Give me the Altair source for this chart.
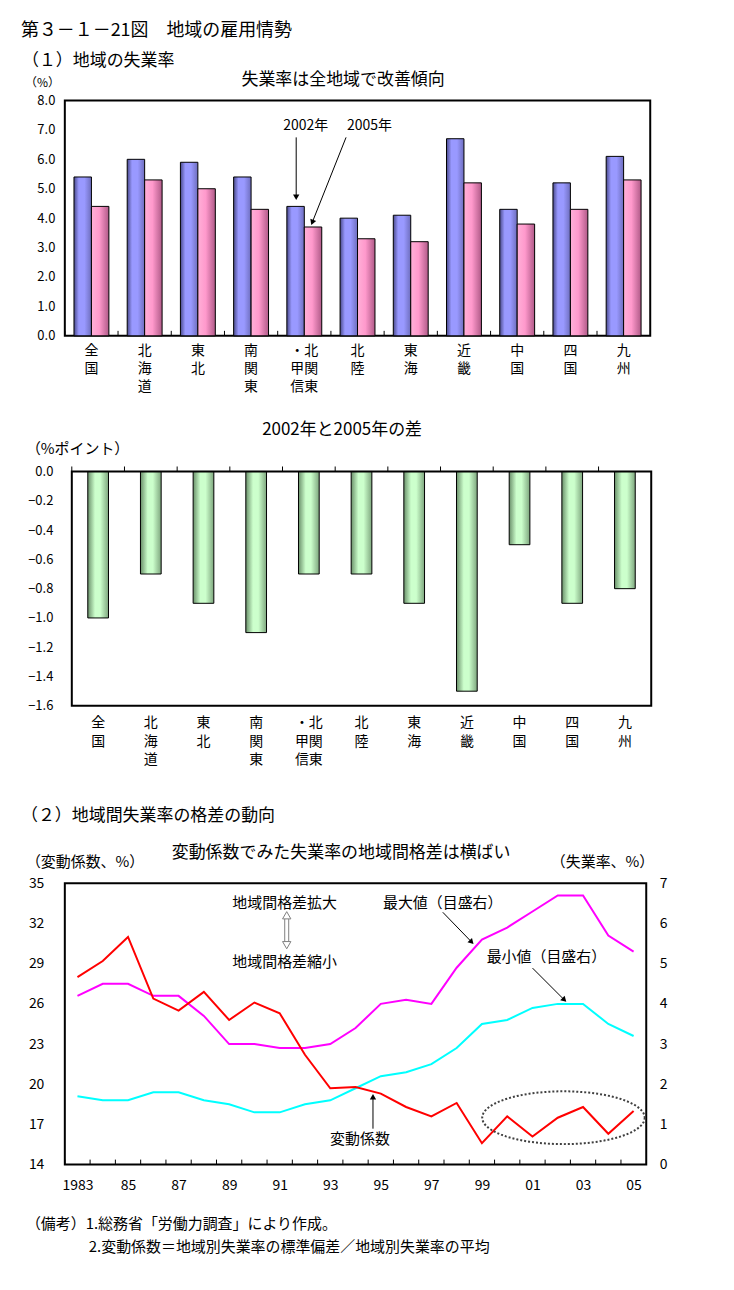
import math
import altair as alt
import pandas as pd

FONT = "Noto Sans CJK JP"

# ---------------- data ----------------
regions = ["全国", "北海道", "東北", "南関東", "北関東・甲信", "北陸", "東海", "近畿", "中国", "四国", "九州"]
region_labels = ["全|国", "北|海|道", "東|北", "南|関|東", "・北|甲関|信東", "北|陸", "東|海", "近|畿", "中|国", "四|国", "九|州"]
bar_years = ["2002年", "2005年"]
rate_2002 = [5.4, 6.0, 5.9, 5.4, 4.4, 4.0, 4.1, 6.7, 4.3, 5.2, 6.1]
rate_2005 = [4.4, 5.3, 5.0, 4.3, 3.7, 3.3, 3.2, 5.2, 3.8, 4.3, 5.3]
rate_change = [-1.0, -0.7, -0.9, -1.1, -0.7, -0.7, -0.9, -1.5, -0.5, -0.9, -0.8]

years = [1983, 1984, 1985, 1986, 1987, 1988, 1989, 1990, 1991, 1992, 1993, 1994,
         1995, 1996, 1997, 1998, 1999, 2000, 2001, 2002, 2003, 2004, 2005]
coef_var = [28.0, 29.2, 31.0, 26.4, 25.5, 26.9, 24.8, 26.1, 25.3, 22.2, 19.7, 19.8,
            19.3, 18.3, 17.6, 18.6, 15.6, 17.6, 16.1, 17.5, 18.3, 16.3, 18.0]
max_rate = [4.2, 4.5, 4.5, 4.2, 4.2, 3.7, 3.0, 3.0, 2.9, 2.9, 3.0, 3.4,
            4.0, 4.1, 4.0, 4.9, 5.6, 5.9, 6.3, 6.7, 6.7, 5.7, 5.3]
min_rate = [1.7, 1.6, 1.6, 1.8, 1.8, 1.6, 1.5, 1.3, 1.3, 1.5, 1.6, 1.9,
            2.2, 2.3, 2.5, 2.9, 3.5, 3.6, 3.9, 4.0, 4.0, 3.5, 3.2]

y1_ticks = [0, 1, 2, 3, 4, 5, 6, 7, 8]
y2_ticks = [-1.6, -1.4, -1.2, -1.0, -0.8, -0.6, -0.4, -0.2, 0.0]
y3_left_ticks = [14, 17, 20, 23, 26, 29, 32, 35]
y3_right_ticks = [0, 1, 2, 3, 4, 5, 6, 7]

# ---------------- texts ----------------
fig_title = "第３－１－21図　地域の雇用情勢"
sec1_title = "（１）地域の失業率"
chart1_title = "失業率は全地域で改善傾向"
chart1_unit = "（%）"
chart2_title = "2002年と2005年の差"
chart2_unit = "（%ポイント）"
sec2_title = "（２）地域間失業率の格差の動向"
chart3_title = "変動係数でみた失業率の地域間格差は横ばい"
chart3_unit_left = "（変動係数、%）"
chart3_unit_right = "（失業率、%）"
note_widen = "地域間格差拡大"
note_narrow = "地域間格差縮小"
note_max = "最大値（目盛右）"
note_min = "最小値（目盛右）"
note_cv = "変動係数"
foot1 = "（備考）1.総務省「労働力調査」により作成。"
foot2 = "2.変動係数＝地域別失業率の標準偏差／地域別失業率の平均"

# ---------------- tables ----------------
df1 = pd.DataFrame({
    "label": region_labels * 2,
    "year": [bar_years[0]] * len(region_labels) + [bar_years[1]] * len(region_labels),
    "rate": rate_2002 + rate_2005,
})
df2 = pd.DataFrame({"label": region_labels, "diff": rate_change})
df3 = pd.DataFrame({"year": years, "cv": coef_var, "max": max_rate, "min": min_rate})
one = pd.DataFrame({"k": [0]})

# ---------------- layout sizes ----------------
W1, H1 = 587, 236
W2, H2 = 588, 235
X2L = 7            # chart 2 frame starts 7px right of the common origin
W3, H3 = 583, 282
GAP1, GAP2 = 136, 178
OX, OY = 64, 98


def txt(s, x, y, size=15, align="left"):
    return alt.Chart(one).mark_text(
        text=s, align=align, baseline="middle", font=FONT, fontSize=size, color="black"
    ).encode(x=alt.value(x), y=alt.value(y))


def arrow(x1, y1, x2, y2, color="black"):
    dx, dy = x2 - x1, y2 - y1
    L = math.hypot(dx, dy)
    ux, uy = dx / L, dy / L
    ang = math.degrees(math.atan2(-dx, dy)) % 360
    hx, hy = x2 - ux * 3, y2 - uy * 3
    line = alt.Chart(one).mark_rule(color=color, strokeWidth=1).encode(
        x=alt.value(x1), y=alt.value(y1), x2=alt.value(hx), y2=alt.value(hy))
    tip = alt.Chart(one).mark_point(
        shape="triangle-down", filled=True, color=color, size=40, angle=ang, opacity=1
    ).encode(x=alt.value(hx), y=alt.value(hy))
    return alt.layer(line, tip)


def grad(stops):
    return alt.LinearGradient(
        gradient="linear",
        stops=[alt.GradientStop(offset=o, color=c) for o, c in stops],
        x1=0, x2=1, y1=0, y2=0)


grad_blue = grad([(0, "#4A4A8C"), (0.28, "#9999FF"), (0.6, "#9999FF"), (1, "#6E6EBE")])
grad_pink = grad([(0, "#FFB0D8"), (0.45, "#FF99CC"), (1, "#B05A88")])
grad_green = grad([(0, "#6A906A"), (0.35, "#CCFFCC"), (0.6, "#CCFFCC"), (1, "#7EA67E")])

# ---------------- chart 1 ----------------
def x1_enc(bp=None):
    kw = dict(sort=region_labels, title=None,
              scale=alt.Scale(paddingInner=0.344, paddingOuter=0.172),
              axis=alt.Axis(labelExpr="split(datum.label, '|')", labelAngle=0, labelFontSize=14,
                            labelLineHeight=18, labelPadding=8, labelBaseline="top"))
    if bp is not None:
        kw["bandPosition"] = bp
    return alt.X("label:N", **kw)


xo1 = alt.XOffset("year:N", sort=bar_years,
                  scale=alt.Scale(domain=bar_years, paddingInner=0, paddingOuter=0))
y1 = alt.Y("rate:Q", title=None, scale=alt.Scale(domain=[0, 8]),
           axis=alt.Axis(values=y1_ticks, format=".1f", labelPadding=10, labelFontSize=13))

canvas = alt.Chart(one).mark_rect(opacity=0).encode(
    x=alt.value(-OX), y=alt.value(-OY), x2=alt.value(734 - OX), y2=alt.value(1290 - OY))

bars02 = alt.Chart(df1).transform_filter(alt.datum.year == bar_years[0]).mark_bar(
    fill=grad_blue, stroke="black", strokeWidth=1).encode(x=x1_enc(), xOffset=xo1, y=y1)
bars05 = alt.Chart(df1).transform_filter(alt.datum.year == bar_years[1]).mark_bar(
    fill=grad_pink, stroke="black", strokeWidth=1).encode(x=x1_enc(), xOffset=xo1, y=y1)
ticks1 = alt.Chart(df2).mark_rule(color="black", strokeWidth=1, xOffset=-W1 / 11 / 2).encode(
    x=x1_enc(0.5), y=alt.value(H1 - 5), y2=alt.value(H1))

c1 = alt.layer(
    canvas, bars02, bars05, ticks1,
    txt(fig_title, -44, -70, 18),
    txt(sec1_title, -43, -40, 17),
    txt(chart1_title, 279, -21, 17, "center"),
    txt(chart1_unit, -40, -18, 12),
    txt("2002年", 219, 26, 14),
    txt("2005年", 283, 26, 14),
    arrow(232, 37, 232, 100),
    arrow(282, 37, 247, 125),
).properties(width=W1, height=H1)

# ---------------- chart 2 ----------------
def x2_enc(bp=None):
    kw = dict(sort=region_labels, title=None,
              scale=alt.Scale(paddingInner=0.607, paddingOuter=0.3035, range=[X2L, W2]),
              axis=alt.Axis(labelExpr="split(datum.label, '|')", labelAngle=0, labelFontSize=14,
                            labelLineHeight=18.5, labelPadding=10, labelBaseline="top"))
    if bp is not None:
        kw["bandPosition"] = bp
    return alt.X("label:N", **kw)


y2 = alt.Y("diff:Q", title=None, scale=alt.Scale(domain=[-1.6, 0]),
           axis=alt.Axis(values=y2_ticks, format=".1f", labelPadding=12, labelFontSize=13))
bars_d = alt.Chart(df2).mark_bar(fill=grad_green, stroke="black", strokeWidth=1).encode(
    x=x2_enc(), y=y2)
ticks2 = alt.Chart(df2).mark_rule(color="black", strokeWidth=1,
                                  xOffset=-(W2 - X2L) / 11 / 2).encode(
    x=x2_enc(0.5), y=alt.value(-5), y2=alt.value(0))
frame2 = alt.Chart(one).mark_rect(fill="transparent", stroke="black", strokeWidth=2).encode(
    x=alt.value(X2L), x2=alt.value(W2), y=alt.value(0), y2=alt.value(H2))

c2 = alt.layer(
    bars_d, ticks2, frame2,
    txt(chart2_title, 278, -42, 17, "center"),
    txt(chart2_unit, -39, -23, 15),
).properties(width=W2, height=H2, view=alt.ViewBackground(stroke="transparent", strokeWidth=0))

# ---------------- chart 3 ----------------
x3 = alt.X("year:O", title=None, scale=alt.Scale(type="point", padding=0.5),
           axis=alt.Axis(labelExpr="datum.value == 1983 ? '1983' : (datum.value % 2 == 1 ? slice(toString(datum.value), 2) : '')",
                         labelAngle=0, labelFontSize=14, labelPadding=14, labelOverlap=False))

line_max = alt.Chart(df3).mark_line(color="#FF00FF", strokeWidth=2).encode(
    x=x3, y=alt.Y("max:Q", title=None, scale=alt.Scale(domain=[0, 7]),
                  axis=alt.Axis(orient="right", values=y3_right_ticks, labelPadding=13, labelFontSize=14)))
line_min = alt.Chart(df3).mark_line(color="#00FFFF", strokeWidth=2).encode(
    x=x3, y=alt.Y("min:Q", title=None, scale=alt.Scale(domain=[0, 7]), axis=None))
line_cv = alt.Chart(df3).mark_line(color="#FF0000", strokeWidth=2).encode(
    x=x3, y=alt.Y("cv:Q", title=None, scale=alt.Scale(domain=[14, 35]),
                  axis=alt.Axis(orient="left", values=y3_left_ticks, labelPadding=21, labelFontSize=14)))
ticks3 = alt.Chart(df3).mark_rule(color="black", strokeWidth=1, xOffset=-W3 / 23 / 2).encode(
    x=x3, y=alt.value(H3 - 5), y2=alt.value(H3))

# dotted ellipse decoration
ell_pts = []
for i in range(73):
    t = 2 * math.pi * i / 72
    ell_pts.append(f"{math.cos(t):.4f},{0.325 * math.sin(t):.4f}")
ell_path = "M" + " L".join(ell_pts) + " Z"
ellipse = alt.Chart(one).mark_point(
    shape=ell_path, size=163 * 163, filled=False, stroke="#404040", strokeWidth=2,
    strokeDash=[2, 2], opacity=1).encode(x=alt.value(500), y=alt.value(235))

dbl_shaft = alt.Chart(one).mark_rect(fill="white", stroke="#808080", strokeWidth=1).encode(
    x=alt.value(220.5), x2=alt.value(224.5), y=alt.value(33), y2=alt.value(61))
dbl_up = alt.Chart(one).mark_point(shape="triangle-up", filled=True, fill="white", stroke="#808080",
                                   strokeWidth=1, size=70, opacity=1).encode(x=alt.value(222.5), y=alt.value(32))
dbl_dn = alt.Chart(one).mark_point(shape="triangle-down", filled=True, fill="white", stroke="#808080",
                                   strokeWidth=1, size=70, opacity=1).encode(x=alt.value(222.5), y=alt.value(62))

c3 = alt.layer(
    ticks3, line_max, line_min, line_cv, ellipse,
    dbl_shaft, dbl_up, dbl_dn,
    txt(sec2_title, -44, -68, 17),
    txt(chart3_title, 277, -30, 17, "center"),
    txt(chart3_unit_left, -39, -21, 15),
    txt(chart3_unit_right, 591, -21, 15, "right"),
    txt(note_widen, 168, 20, 15),
    txt(note_narrow, 168, 79, 15),
    txt(note_max, 319, 20, 15),
    txt(note_min, 423, 74, 15),
    txt(note_cv, 266, 256, 15),
    arrow(379, 29, 410, 61),
    arrow(469, 85, 503, 119),
    arrow(309, 246, 309, 211),
    txt(foot1, -39, 342, 15),
    txt(foot2, 24, 365, 15),
).resolve_scale(y="independent").properties(width=W3, height=H3)


def spacer(h):
    return alt.Chart(one).mark_point(opacity=0).encode(
        x=alt.value(0), y=alt.value(0)).properties(
        width=10, height=h, view=alt.ViewBackground(stroke="transparent", strokeWidth=0))


chart = alt.vconcat(c1, spacer(GAP1), c2, spacer(GAP2), c3, spacing=0, bounds="flush").properties(
    padding=0, background="white", autosize=alt.AutoSizeParams(type="pad")
).configure_view(stroke="black", strokeWidth=2).configure_axis(
    labelFont=FONT, labelColor="black", domain=False, ticks=False, grid=False)

chart.save("out.html", embed_options={"renderer": "svg", "actions": False})
